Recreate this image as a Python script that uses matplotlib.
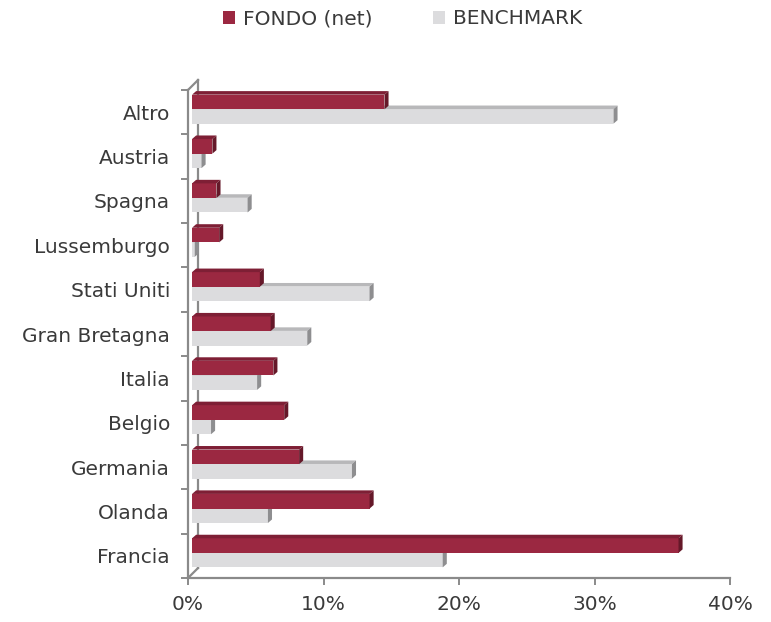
import matplotlib
matplotlib.use("Agg")
import matplotlib.pyplot as plt
from matplotlib.patches import Polygon, Patch
from matplotlib.lines import Line2D

plt.rcParams['font.family'] = ['DejaVu Sans']

categories = ["Francia", "Olanda", "Germania", "Belgio", "Italia", "Gran Bretagna",
              "Stati Uniti", "Lussemburgo", "Spagna", "Austria", "Altro"]
fondo = [36.2, 13.4, 8.2, 7.1, 6.3, 6.1, 5.3, 2.3, 2.1, 1.8, 14.5]
benchmark = [18.8, 5.9, 12.1, 1.7, 5.1, 8.8, 13.4, 0.5, 4.4, 1.0, 31.4]
series_names = ["FONDO (net)", "BENCHMARK"]
xticks = [0, 10, 20, 30, 40]
xticklabels = ["0%", "10%", "20%", "30%", "40%"]

C_FONDO = "#9B2841"
C_FONDO_TOP = "#7E1F35"
C_FONDO_SIDE = "#651829"
C_BENCH = "#DCDCDE"
C_BENCH_TOP = "#B8B8BA"
C_BENCH_SIDE = "#8E8E90"
AXC = "#8A8A8A"
TXT = "#3A3A3A"
FS = 14.5

W, H = 771, 622
fig = plt.figure(figsize=(W / 100, H / 100), dpi=100)
ax = fig.add_axes([188 / W, (H - 578) / H, (730 - 188) / W, (578 - 90) / H])
ax.set_xlim(0, 40)
ax.set_ylim(-0.5, len(categories) - 0.5)

x0 = 0.3
dx, dy = 0.3, 0.08
h = 0.33
off_f = 0.23
off_b = -0.095


def bar3d(y, val, face, top, side):
    yb, yt = y - h / 2, y + h / 2
    ax.barh(y, val - x0, left=x0, height=h, color=face, linewidth=0, zorder=3)
    ax.add_patch(Polygon([(x0, yt), (val, yt), (val + dx, yt + dy), (x0 + dx, yt + dy)],
                         closed=True, facecolor=top, linewidth=0, zorder=3))
    ax.add_patch(Polygon([(val, yb), (val + dx, yb + dy), (val + dx, yt + dy), (val, yt)],
                         closed=True, facecolor=side, linewidth=0, zorder=3))


for i in range(len(categories)):
    bar3d(i + off_b, benchmark[i], C_BENCH, C_BENCH_TOP, C_BENCH_SIDE)
for i in range(len(categories)):
    bar3d(i + off_f, fondo[i], C_FONDO, C_FONDO_TOP, C_FONDO_SIDE)

# walls
bx = 0.74
ytop = len(categories) - 0.5
ax.add_line(Line2D([bx, bx], [-0.5 + 0.225, ytop + 0.225], color=AXC, lw=1.6, zorder=2, clip_on=False))
ax.add_line(Line2D([0, bx], [-0.5, -0.5 + 0.225], color=AXC, lw=1.6, zorder=2, clip_on=False))
ax.add_line(Line2D([0, bx], [ytop, ytop + 0.225], color=AXC, lw=1.6, zorder=2, clip_on=False))

for s in ["top", "right"]:
    ax.spines[s].set_visible(False)
for s in ["left", "bottom"]:
    ax.spines[s].set_color(AXC)
    ax.spines[s].set_linewidth(1.6)

ax.set_xticks(xticks)
ax.set_xticklabels(xticklabels, fontsize=FS, color=TXT)
ax.tick_params(axis="x", length=5, width=1.4, color=AXC, pad=7)

ax.set_yticks(range(len(categories)))
ax.set_yticklabels(categories, fontsize=FS, color=TXT)
ax.tick_params(axis="y", which="major", length=0, pad=13)
ax.set_yticks([i - 0.5 for i in range(len(categories) + 1)], minor=True)
ax.tick_params(axis="y", which="minor", length=5, width=1.4, color=AXC)

handles = [Patch(facecolor=C_FONDO, edgecolor="none"), Patch(facecolor=C_BENCH, edgecolor="none")]
fig.legend(handles, series_names, loc="center", bbox_to_anchor=(403 / W, 1 - 19 / H), ncol=2,
           frameon=False, fontsize=FS, handlelength=0.6, handleheight=0.6, handletextpad=0.4,
           columnspacing=3.0, labelcolor=TXT)

fig.savefig("out.png", dpi=100)
